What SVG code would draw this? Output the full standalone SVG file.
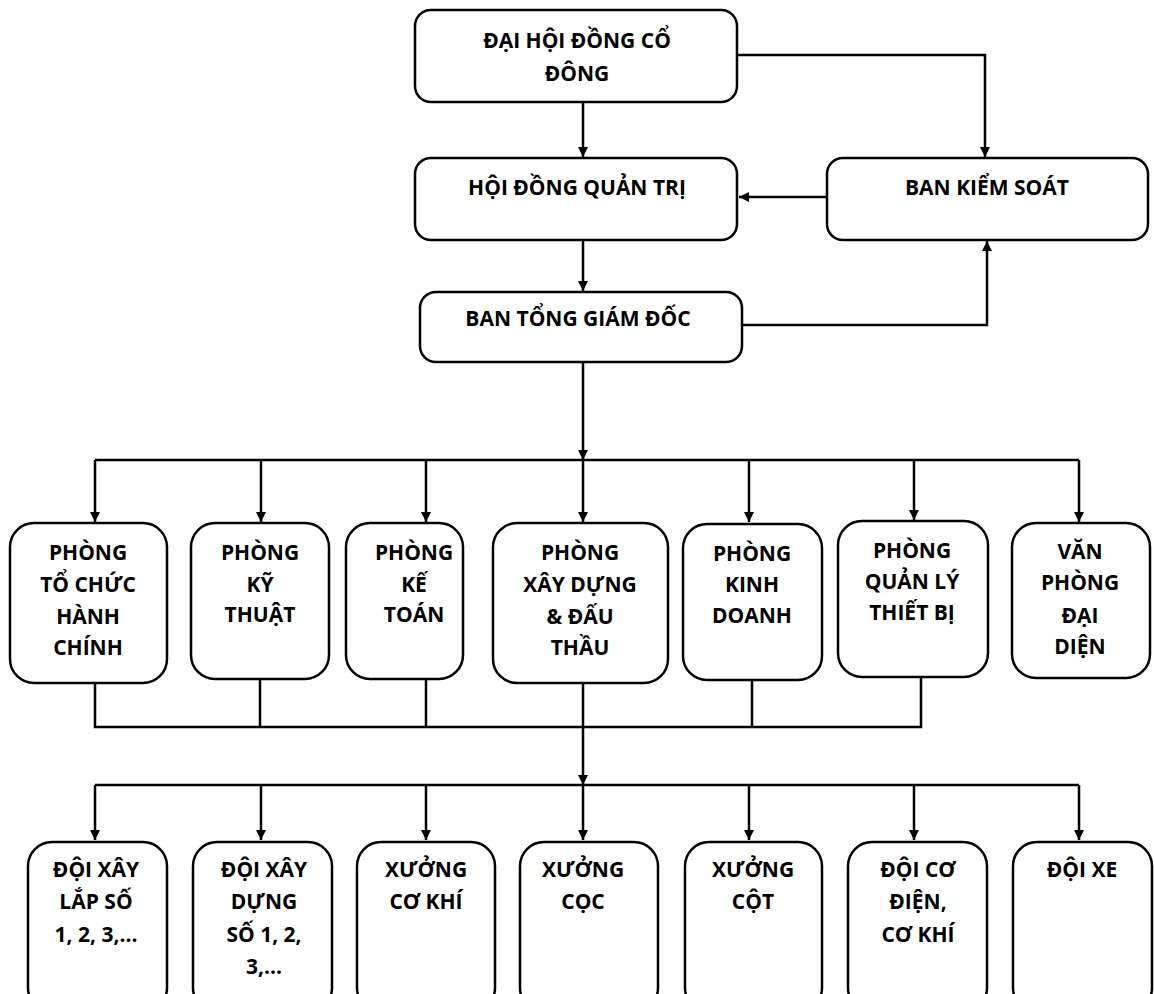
<svg xmlns="http://www.w3.org/2000/svg" width="1154" height="994" viewBox="0 0 1154 994">
<style>
.box{fill:#fff;stroke:#000;stroke-width:2.5}
.t{font-family:"Open Sans","DejaVu Sans",sans-serif;font-weight:bold;font-size:21px;fill:#000;text-anchor:middle}
.c{fill:none;stroke:#000;stroke-width:2.5}
</style>
<defs>
<marker id="ah" viewBox="0 0 10 10" refX="10" refY="5" markerWidth="4" markerHeight="4" orient="auto" markerUnits="strokeWidth">
<path d="M0,0 L10,5 L0,10 z" fill="#000"/>
</marker>
</defs>
<rect width="1154" height="994" fill="#fff"/>
<g id="connectors">
<path class="c" d="M583,102 V157" marker-end="url(#ah)"/>
<path class="c" d="M737,55 H985 V157" marker-end="url(#ah)"/>
<path class="c" d="M827,197 H739" marker-end="url(#ah)"/>
<path class="c" d="M583,240 V291" marker-end="url(#ah)"/>
<path class="c" d="M742,325 H987 V241" marker-end="url(#ah)"/>
<path class="c" d="M583,362 V460" marker-end="url(#ah)"/>
<path class="c" d="M95,460 H1079"/>
<path class="c" d="M95,460 V522" marker-end="url(#ah)"/>
<path class="c" d="M261,460 V522" marker-end="url(#ah)"/>
<path class="c" d="M426,460 V522" marker-end="url(#ah)"/>
<path class="c" d="M583,460 V522" marker-end="url(#ah)"/>
<path class="c" d="M749,460 V522" marker-end="url(#ah)"/>
<path class="c" d="M914,460 V520" marker-end="url(#ah)"/>
<path class="c" d="M1079,460 V522" marker-end="url(#ah)"/>
<path class="c" d="M95,683 V727 H921 V677"/>
<path class="c" d="M260,679 V727"/>
<path class="c" d="M426,679 V727"/>
<path class="c" d="M752,680 V727"/>
<path class="c" d="M583,683 V785" marker-end="url(#ah)"/>
<path class="c" d="M95,785 H1079"/>
<path class="c" d="M95,785 V840" marker-end="url(#ah)"/>
<path class="c" d="M261,785 V840" marker-end="url(#ah)"/>
<path class="c" d="M426,785 V840" marker-end="url(#ah)"/>
<path class="c" d="M583,785 V840" marker-end="url(#ah)"/>
<path class="c" d="M749,785 V840" marker-end="url(#ah)"/>
<path class="c" d="M914,785 V840" marker-end="url(#ah)"/>
<path class="c" d="M1079,785 V840" marker-end="url(#ah)"/>
</g>
<g id="dhdcd"><rect class="box" x="415" y="10" width="322" height="92" rx="16"/>
<text class="t" x="577" y="48">ĐẠI HỘI ĐỒNG CỔ</text><text class="t" x="577" y="81">ĐÔNG</text></g>
<g id="hdqt"><rect class="box" x="415" y="158" width="322" height="82" rx="16"/>
<text class="t" x="577" y="195">HỘI ĐỒNG QUẢN TRỊ</text></g>
<g id="bks"><rect class="box" x="827" y="158" width="321" height="82" rx="16"/>
<text class="t" x="987" y="195">BAN KIỂM SOÁT</text></g>
<g id="btgd"><rect class="box" x="420" y="292" width="322" height="70" rx="16"/>
<text class="t" x="578" y="326">BAN TỔNG GIÁM ĐỐC</text></g>

<g id="p1"><rect class="box" x="10" y="523" width="157" height="160" rx="24"/>
<text class="t" x="88" y="560">PHÒNG</text><text class="t" x="88" y="592">TỔ CHỨC</text><text class="t" x="88" y="624">HÀNH</text><text class="t" x="88" y="655">CHÍNH</text></g>
<g id="p2"><rect class="box" x="191" y="523" width="138" height="156" rx="24"/>
<text class="t" x="260" y="560">PHÒNG</text><text class="t" x="260" y="592">KỸ</text><text class="t" x="260" y="622">THUẬT</text></g>
<g id="p3"><rect class="box" x="346" y="523" width="117" height="156" rx="24"/>
<text class="t" x="414" y="560">PHÒNG</text><text class="t" x="414" y="592">KẾ</text><text class="t" x="414" y="622">TOÁN</text></g>
<g id="p4"><rect class="box" x="493" y="523" width="175" height="160" rx="24"/>
<text class="t" x="580" y="560">PHÒNG</text><text class="t" x="580" y="592">XÂY DỰNG</text><text class="t" x="580" y="624">&amp; ĐẤU</text><text class="t" x="580" y="655">THẦU</text></g>
<g id="p5"><rect class="box" x="683" y="524" width="139" height="156" rx="24"/>
<text class="t" x="752" y="561">PHÒNG</text><text class="t" x="752" y="592">KINH</text><text class="t" x="752" y="623">DOANH</text></g>
<g id="p6"><rect class="box" x="838" y="521" width="150" height="156" rx="24"/>
<text class="t" x="912" y="558">PHÒNG</text><text class="t" x="912" y="589">QUẢN LÝ</text><text class="t" x="912" y="620">THIẾT BỊ</text></g>
<g id="p7"><rect class="box" x="1012" y="523" width="138" height="155" rx="24"/>
<text class="t" x="1080" y="559">VĂN</text><text class="t" x="1080" y="590">PHÒNG</text><text class="t" x="1080" y="623">ĐẠI</text><text class="t" x="1080" y="654">DIỆN</text></g>

<g id="d1"><rect class="box" x="28" y="842" width="139" height="170" rx="24"/>
<text class="t" x="96" y="877">ĐỘI XÂY</text><text class="t" x="96" y="909">LẮP SỐ</text><text class="t" x="96" y="942">1, 2, 3,...</text></g>
<g id="d2"><rect class="box" x="193" y="842" width="139" height="170" rx="24"/>
<text class="t" x="264" y="877">ĐỘI XÂY</text><text class="t" x="264" y="909">DỰNG</text><text class="t" x="264" y="942">SỐ 1, 2,</text><text class="t" x="264" y="974">3,...</text></g>
<g id="d3"><rect class="box" x="357" y="842" width="138" height="170" rx="24"/>
<text class="t" x="426" y="877">XƯỞNG</text><text class="t" x="426" y="909">CƠ KHÍ</text></g>
<g id="d4"><rect class="box" x="520" y="842" width="138" height="170" rx="24"/>
<text class="t" x="583" y="877">XƯỞNG</text><text class="t" x="583" y="909">CỌC</text></g>
<g id="d5"><rect class="box" x="685" y="842" width="137" height="170" rx="24"/>
<text class="t" x="753" y="877">XƯỞNG</text><text class="t" x="753" y="909">CỘT</text></g>
<g id="d6"><rect class="box" x="848" y="842" width="139" height="170" rx="24"/>
<text class="t" x="918" y="877">ĐỘI CƠ</text><text class="t" x="918" y="909">ĐIỆN,</text><text class="t" x="918" y="942">CƠ KHÍ</text></g>
<g id="d7"><rect class="box" x="1013" y="842" width="139" height="170" rx="24"/>
<text class="t" x="1082" y="877">ĐỘI XE</text></g>
</svg>
